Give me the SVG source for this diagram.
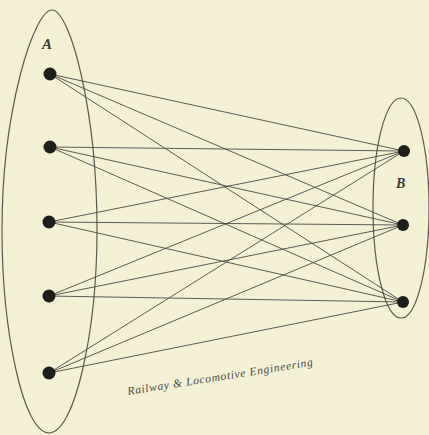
<svg xmlns="http://www.w3.org/2000/svg" width="429" height="435" viewBox="0 0 429 435">
<style>
.bg{fill:#f4f0d4}
.outline{fill:none;stroke:#5a5a50;stroke-width:1.2}
.node{fill:#1e1e1a}
.conn{stroke:#4a4a44;stroke-width:0.9}
.lbl{font-family:"Liberation Serif",serif;font-style:italic;font-weight:bold;fill:#3a3a34}
.cap{font-family:"Liberation Serif",serif;font-style:italic;font-size:11.5px;letter-spacing:0.7px;fill:#4a4a44}
</style>
<rect class="bg" x="0" y="0" width="429" height="435"/>
<g id="setA">
<path class="outline" d="M52,10 C70,10 97,110 97,230 C97,330 75,433 49,433 C23,433 2,330 2,230 C2,110 34,10 52,10 Z"/>
<text class="lbl" x="42" y="49" font-size="15">A</text>
</g>
<g id="setB">
<ellipse class="outline" cx="401" cy="208" rx="28" ry="110"/>
<text class="lbl" x="396" y="188" font-size="14" font-weight="normal">B</text>
</g>
<g id="connectors">
<line class="conn" x1="50" y1="74" x2="404" y2="151"/>
<line class="conn" x1="50" y1="74" x2="403" y2="225"/>
<line class="conn" x1="50" y1="74" x2="403" y2="302"/>
<line class="conn" x1="50" y1="147" x2="404" y2="151"/>
<line class="conn" x1="50" y1="147" x2="403" y2="225"/>
<line class="conn" x1="50" y1="147" x2="403" y2="302"/>
<line class="conn" x1="49" y1="222" x2="404" y2="151"/>
<line class="conn" x1="49" y1="222" x2="403" y2="225"/>
<line class="conn" x1="49" y1="222" x2="403" y2="302"/>
<line class="conn" x1="49" y1="296" x2="404" y2="151"/>
<line class="conn" x1="49" y1="296" x2="403" y2="225"/>
<line class="conn" x1="49" y1="296" x2="403" y2="302"/>
<line class="conn" x1="49" y1="373" x2="404" y2="151"/>
<line class="conn" x1="49" y1="373" x2="403" y2="225"/>
<line class="conn" x1="49" y1="373" x2="403" y2="302"/>
</g>
<g id="A1"><circle class="node" cx="50" cy="74" r="6.5"/></g>
<g id="A2"><circle class="node" cx="50" cy="147" r="6.5"/></g>
<g id="A3"><circle class="node" cx="49" cy="222" r="6.5"/></g>
<g id="A4"><circle class="node" cx="49" cy="296" r="6.5"/></g>
<g id="A5"><circle class="node" cx="49" cy="373" r="6.5"/></g>
<g id="B1"><circle class="node" cx="404" cy="151" r="6"/></g>
<g id="B2"><circle class="node" cx="403" cy="225" r="6"/></g>
<g id="B3"><circle class="node" cx="403" cy="302" r="6"/></g>
<text class="cap" transform="translate(128,395) rotate(-9)">Railway &amp; Locomotive Engineering</text>
</svg>
